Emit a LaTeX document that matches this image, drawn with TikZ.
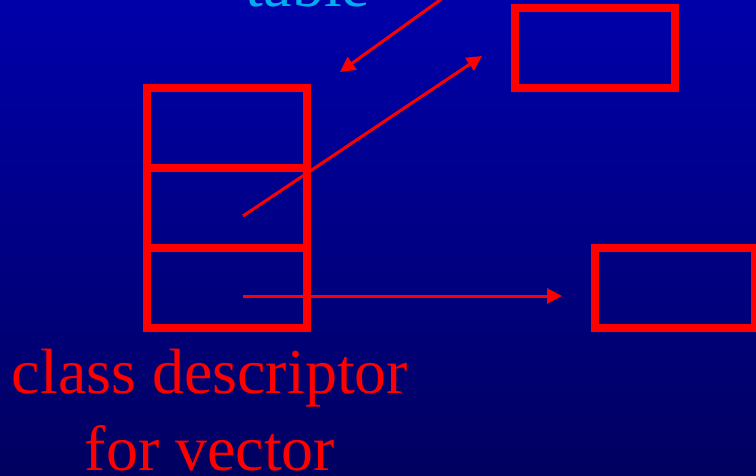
\documentclass[tikz,border=0pt]{standalone}
\usepackage{fontspec}
\setmainfont{Liberation Serif}
\usetikzlibrary{arrows.meta,positioning}

\definecolor{fondoA}{RGB}{0,0,170}
\definecolor{fondoB}{RGB}{0,0,96}

\begin{document}
\begin{tikzpicture}[x = 1pt, y = -1pt, >={Triangle[length=15pt, width=15pt]}, cell/.style = {draw = red, line width = 8pt, minimum width = 160pt, minimum height = 80pt, inner sep = 0pt, outer sep = 0pt}]
    % Tamaños de letra y grosor de las flechas.
    \tikzset{lbl/.style = {font = \fontsize{64}{77}\selectfont, inner sep = 0pt, anchor = base}}
    \tikzset{ptr/.style = {->, red, line width = 3pt}}

    % Primero el fondo:
    \useasboundingbox (0, 0) rectangle (756, 476);
    \shade[top color = fondoA, bottom color = fondoB] (0, 0) rectangle (756, 476);

    % Descriptor de clase con sus tres casillas.
    \node[cell] (c1) at (227, 128) {};
    \node[cell, below = 0pt of c1] (c2) {};
    \node[cell, below = 0pt of c2] (c3) {};

    % Cajas de la derecha.
    \node[cell] (tb) at (595, 48) {};
    \node[cell] (bb) at (675, 288) {};

    % Textos:
    \node[lbl, text = cyan] (tabla) at (308, 7) {table};
    \node[lbl, text = red] (desc) at (210, 393) {class descriptor};
    \node[lbl, text = red] (descb) at (210, 470) {for vector};

    % Flechas.
    \coordinate (ta) at (454, -10);
    \coordinate (tt) at (340, 72);
    \draw[ptr] (ta) -- (tt);

    \coordinate (p2) at ([xshift = 16pt, yshift = -8pt] c2.center);
    \coordinate (q2) at ([xshift = -33pt, yshift = -8pt] tb.west);
    \draw[ptr] (p2) -- (q2);

    \coordinate (p3) at ([xshift = 16pt, yshift = -8pt] c3.center);
    \coordinate (q3) at ([xshift = -33pt, yshift = -8pt] bb.west);
    \draw[ptr] (p3) -- (q3);

\end{tikzpicture}
\end{document}
